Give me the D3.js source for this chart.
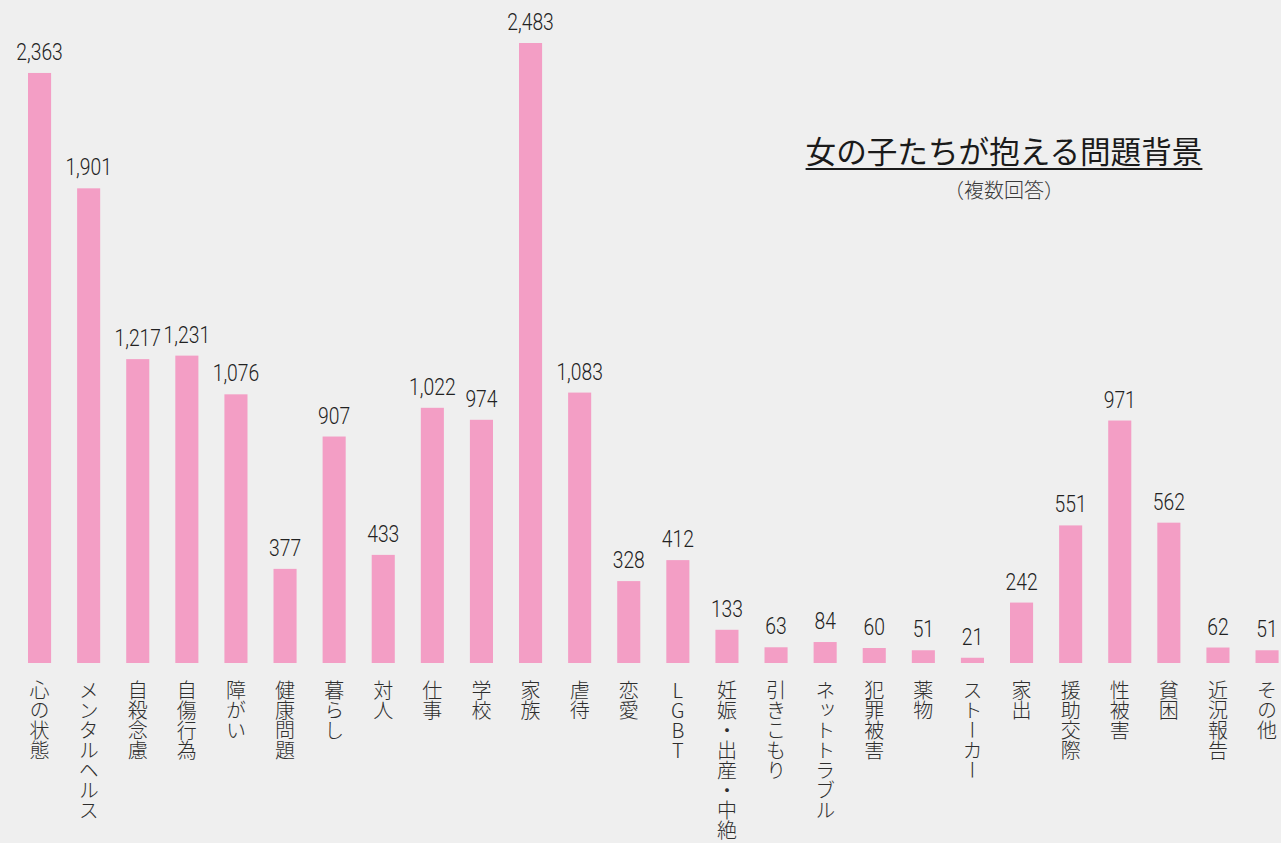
<!DOCTYPE html>
<html><head><meta charset="utf-8">
<script src="https://cdn.jsdelivr.net/npm/d3@7"></script>
<style>
html,body{margin:0;padding:0;background:#efefef;}
svg{display:block;}
.val{font-family:"Roboto","Noto Sans",sans-serif;font-weight:300;font-size:23px;fill:#222;}
.cat{font-family:"Noto Sans CJK JP",sans-serif;font-weight:300;font-size:20px;fill:#2e2e2e;writing-mode:vertical-rl;text-orientation:upright;}
</style></head>
<body>
<script>
const categories = ["心の状態","メンタルヘルス","自殺念慮","自傷行為","障がい","健康問題","暮らし","対人","仕事","学校","家族","虐待","恋愛","LGBT","妊娠・出産・中絶","引きこもり","ネットトラブル","犯罪被害","薬物","ストーカー","家出","援助交際","性被害","貧困","近況報告","その他"];
const values = [2363,1901,1217,1231,1076,377,907,433,1022,974,2483,1083,328,412,133,63,84,60,51,21,242,551,971,562,62,51];
const title = "女の子たちが抱える問題背景";
const subtitle = "（複数回答）";

const W = 1281, H = 843;
const svg = d3.select("body").append("svg").attr("width", W).attr("height", H);
svg.append("rect").attr("width", W).attr("height", H).attr("fill", "#efefef");

const x = d3.scaleBand().domain(categories).range([15, 15 + 26 * 49.1]).paddingInner(0.53).paddingOuter(0.265);
const y = d3.scaleLinear().domain([0, d3.max(values)]).range([663, 43]);
const fmt = d3.format(",");

const g = svg.append("g");
g.selectAll("rect.bar").data(categories).join("rect")
  .attr("class", "bar")
  .attr("x", d => x(d))
  .attr("width", x.bandwidth())
  .attr("y", (d, i) => y(values[i]))
  .attr("height", (d, i) => y(0) - y(values[i]))
  .attr("fill", "#f39ec5");

g.selectAll("text.val").data(categories).join("text")
  .attr("class", "val")
  .attr("transform", (d, i) => `translate(${x(d) + x.bandwidth() / 2},${y(values[i]) - 13}) scale(0.84,1)`)
  .attr("text-anchor", "middle")
  .text((d, i) => fmt(values[i]));

g.selectAll("text.cat").data(categories).join("text")
  .attr("class", "cat")
  .attr("x", d => x(d) + x.bandwidth() / 2)
  .attr("y", 680)
  .text(d => d);

const tt = svg.append("text").attr("x", 1004).attr("y", 163).attr("text-anchor", "middle")
  .style("font-family", '"Noto Sans CJK JP",sans-serif').style("font-size", "30.6px").style("font-weight", 400)
  .attr("fill", "#1a1a1a").text(title);
const bb = tt.node().getBBox();
svg.append("line").attr("x1", bb.x).attr("x2", bb.x + bb.width).attr("y1", 169).attr("y2", 169)
  .attr("stroke", "#1a1a1a").attr("stroke-width", 2);
svg.append("text").attr("x", 1004).attr("y", 198).attr("text-anchor", "middle")
  .style("font-family", '"Noto Sans CJK JP",sans-serif').style("font-size", "20px").style("font-weight", 300)
  .attr("fill", "#3a3a3a").text(subtitle);
</script>
</body></html>
